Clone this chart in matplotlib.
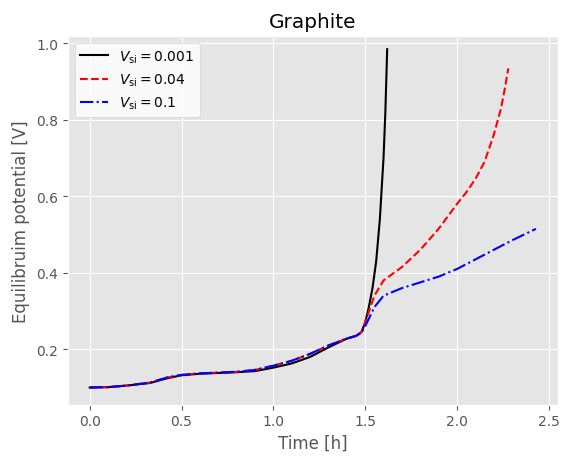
import matplotlib
matplotlib.use("Agg")
import matplotlib.pyplot as plt

plt.style.use("ggplot")

t_black = [0, 0.1, 0.2, 0.33, 0.42, 0.5, 0.6, 0.8, 0.9, 1.0, 1.1, 1.2, 1.3, 1.4, 1.45, 1.48, 1.5, 1.52, 1.54, 1.56, 1.58, 1.6, 1.61, 1.62]
v_black = [0.1, 0.101, 0.105, 0.112, 0.124, 0.132, 0.136, 0.14, 0.143, 0.152, 0.163, 0.18, 0.205, 0.228, 0.235, 0.245, 0.27, 0.31, 0.36, 0.43, 0.54, 0.7, 0.82, 0.985]

t_red = [0, 0.1, 0.2, 0.33, 0.42, 0.5, 0.6, 0.8, 0.9, 1.0, 1.1, 1.2, 1.3, 1.4, 1.45, 1.48, 1.5, 1.55, 1.6, 1.7, 1.8, 1.9, 2.0, 2.05, 2.1, 2.15, 2.2, 2.24, 2.26, 2.28]
v_red = [0.1, 0.101, 0.105, 0.113, 0.126, 0.133, 0.137, 0.141, 0.146, 0.157, 0.17, 0.188, 0.21, 0.228, 0.235, 0.245, 0.27, 0.34, 0.38, 0.415, 0.46, 0.515, 0.58, 0.61, 0.645, 0.69, 0.76, 0.83, 0.88, 0.935]

t_blue = [0, 0.1, 0.2, 0.33, 0.42, 0.5, 0.6, 0.8, 0.9, 1.0, 1.1, 1.2, 1.3, 1.4, 1.45, 1.48, 1.5, 1.55, 1.6, 1.7, 1.8, 1.9, 2.0, 2.1, 2.2, 2.3, 2.43]
v_blue = [0.1, 0.101, 0.105, 0.113, 0.126, 0.133, 0.137, 0.141, 0.146, 0.157, 0.17, 0.188, 0.21, 0.228, 0.235, 0.243, 0.26, 0.31, 0.34, 0.36, 0.375, 0.39, 0.41, 0.435, 0.46, 0.485, 0.515]

fig = plt.figure(figsize=(5.74, 4.6), dpi=100)
ax = fig.add_axes([0.118, 0.118, 0.854, 0.802])
ax.plot(t_black, v_black, color="black", ls="-", label=r"$V_{\mathrm{si}}=0.001$")
ax.plot(t_red, v_red, color="red", ls="--", label=r"$V_{\mathrm{si}}=0.04$")
ax.plot(t_blue, v_blue, color="blue", ls="-.", label=r"$V_{\mathrm{si}}=0.1$")
ax.set_xlim(-0.12, 2.55)
ax.set_ylim(0.055, 1.02)
ax.set_xlabel("Time [h]")
ax.set_ylabel("Equilibruim potential [V]")
ax.set_title("Graphite")
ax.legend(loc="upper left", facecolor="white")
fig.savefig("out.png", dpi=100)
